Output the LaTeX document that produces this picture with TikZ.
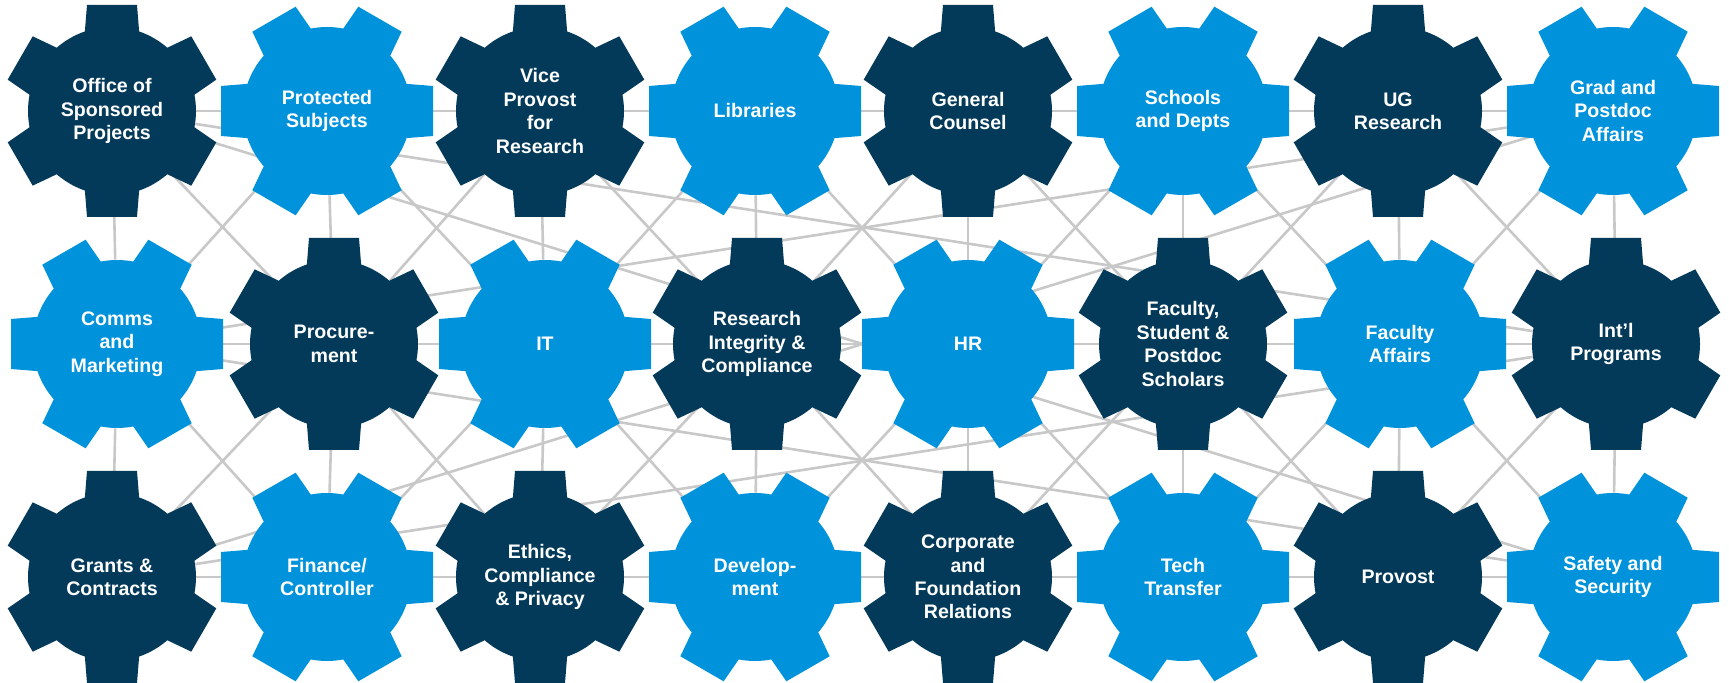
\documentclass[tikz,border=0pt]{standalone}
\usepackage{fontspec}
\setmainfont{Liberation Sans}
\usetikzlibrary{backgrounds}
\definecolor{navy}{HTML}{033A5A}
\definecolor{sky}{HTML}{0092DB}
\definecolor{wire}{HTML}{C8C8C8}
\tikzset{cog/.style={circle, minimum size=84pt, inner sep=0pt, text=white, align=center,
    font=\fontsize{9.8}{11.7}\selectfont\bfseries},
  link/.style={wire, line width=1.3pt}}

\begin{document}
\begin{tikzpicture}[x=0.5pt, y=-0.5pt]
    \useasboundingbox (0,0) rectangle (1729,683);
    % gears: name/x/y/colour/tooth angle/text
    \foreach \n/\x/\y/\c/\r/\t in {
        osp/112/111/navy/90/{Office of\\Sponsored\\Projects},
        prot/327/111/sky/0/{Protected\\Subjects},
        vpr/540/111/navy/90/{Vice\\Provost\\for\\Research},
        lib/755/111/sky/0/{Libraries},
        gc/968/111/navy/90/{General\\Counsel},
        sch/1183/111/sky/0/{Schools\\and Depts},
        ugr/1398/111/navy/90/{UG\\Research},
        gpa/1613/111/sky/0/{Grad and\\Postdoc\\Affairs},
        cmk/117/344/sky/0/{Comms\\and\\Marketing},
        proc/334/344/navy/90/{Procure-\\ment},
        it/545/344/sky/0/{IT},
        ric/757/344/navy/90/{Research\\Integrity \&\\Compliance},
        hr/968/344/sky/0/{HR},
        fsp/1183/344/navy/90/{Faculty,\\Student \&\\Postdoc\\Scholars},
        fa/1400/344/sky/0/{Faculty\\Affairs},
        intl/1616/344/navy/90/{Int’l\\Programs},
        gnc/112/577/navy/90/{Grants \&\\Contracts},
        fin/327/577/sky/0/{Finance/\\Controller},
        ecp/540/577/navy/90/{Ethics,\\Compliance\\\& Privacy},
        dev/755/577/sky/0/{Develop-\\ment},
        cfr/968/577/navy/90/{Corporate\\and\\Foundation\\Relations},
        tt/1183/577/sky/0/{Tech\\Transfer},
        prov/1398/577/navy/90/{Provost},
        sas/1613/577/sky/0/{Safety and\\Security}} {
      \node[cog, fill=\c] (\n) at (\x,\y) {\t};
      \foreach \a in {0,60,...,300}
        \fill[\c, shift={(\x,\y)}, rotate=\r+\a] (75,-27.5) -- (106,-25) -- (106,25) -- (75,27.5) -- cycle;
    }
    \begin{pgfonlayer}{background}
    % rows
    \foreach \a/\b in {osp/prot, prot/vpr, vpr/lib, lib/gc, gc/sch, sch/ugr, ugr/gpa,
        cmk/proc, proc/it, it/ric, ric/hr, hr/fsp, fsp/fa, fa/intl,
        gnc/fin, fin/ecp, ecp/dev, dev/cfr, cfr/tt, tt/prov, prov/sas}
      \draw[link] (\a) -- (\b);
    % columns
    \foreach \a/\b in {osp/cmk, prot/proc, vpr/it, lib/ric, gc/hr, sch/fsp, ugr/fa, gpa/intl,
        cmk/gnc, proc/fin, it/ecp, ric/dev, hr/cfr, fsp/tt, fa/prov, intl/sas}
      \draw[link] (\a) -- (\b);
    % diagonals
    \foreach \a/\b in {osp/proc, prot/cmk, prot/it, vpr/proc, vpr/ric, lib/it, lib/hr,
        gc/ric, gc/fsp, sch/hr, sch/fa, ugr/fsp, ugr/intl, gpa/fa,
        cmk/fin, proc/gnc, proc/ecp, it/fin, it/dev, ric/ecp, ric/cfr,
        hr/dev, hr/tt, fsp/cfr, fsp/prov, fa/tt, fa/sas, intl/prov}
      \draw[link] (\a) -- (\b);
    % long ones
    \foreach \a/\b in {osp/intl, cmk/gpa, cmk/sas, gnc/intl, gnc/gpa, osp/sas}
      \draw[link] (\a) -- (\b);
    \end{pgfonlayer}
\end{tikzpicture}
\end{document}
